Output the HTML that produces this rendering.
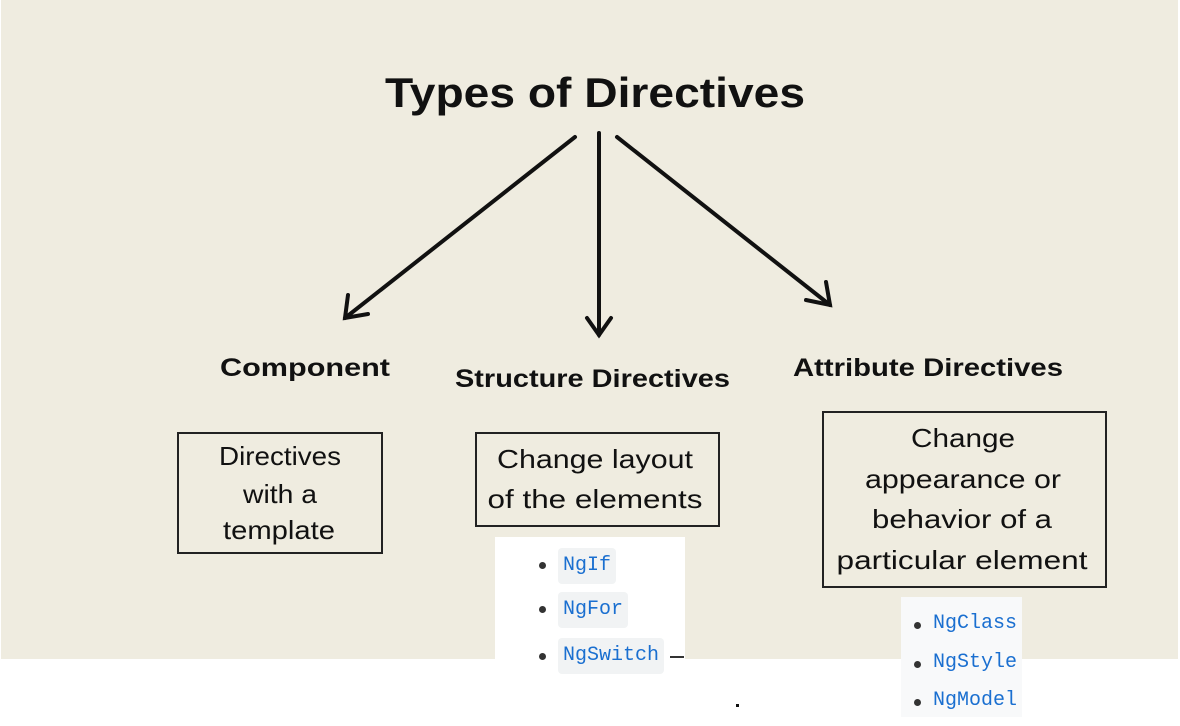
<!DOCTYPE html>
<html><head><style>
body{margin:0;width:1180px;height:726px;background:#fff;position:relative;overflow:hidden;font-family:"Liberation Sans",sans-serif}
.bg{position:absolute;left:1px;top:0;width:1177px;height:659px;background:#efece0}
.box{position:absolute;border:2px solid #222;box-sizing:border-box}
.chip{position:absolute;background:#f1f3f4;border-radius:4px;font-family:"Liberation Mono",monospace;font-size:20px;color:#1a6fd0;padding:0 5px;line-height:36px}
.dot{position:absolute;width:7px;height:7px;border-radius:50%;background:#333}
.m{position:absolute;font-family:"Liberation Mono",monospace;font-size:20px;color:#1a6fd0}
</style></head><body>
<div class="bg"></div>
<div class="box" style="left:177px;top:432px;width:206px;height:122px"></div>
<div class="box" style="left:475px;top:432px;width:245px;height:95px"></div>
<div class="box" style="left:822px;top:411px;width:285px;height:177px"></div>
<svg width="1180" height="726" style="position:absolute;left:0;top:0">
<text x="595" y="107" text-anchor="middle" font-family="Liberation Sans" font-weight="bold" font-size="42" textLength="420" lengthAdjust="spacingAndGlyphs" fill="#111">Types of Directives</text>
<g stroke="#111" stroke-width="4" fill="none" stroke-linecap="round">
<line x1="575" y1="137" x2="345" y2="318"/>
<polyline points="348,295 345,318 368,314"/>
<line x1="599" y1="133" x2="599" y2="335"/>
<polyline points="587,318 599,335 611,318"/>
<line x1="617" y1="137" x2="830" y2="305"/>
<polyline points="806,300 830,305 826,282"/>
</g>
<g font-family="Liberation Sans" font-weight="bold" font-size="25" fill="#111" lengthAdjust="spacingAndGlyphs">
<text x="220" y="376" textLength="170" lengthAdjust="spacingAndGlyphs">Component</text>
<text x="455" y="387" textLength="275" lengthAdjust="spacingAndGlyphs">Structure Directives</text>
<text x="793" y="376" textLength="270" lengthAdjust="spacingAndGlyphs">Attribute Directives</text>
</g>
<g font-family="Liberation Sans" font-size="26" fill="#111" text-anchor="middle">
<text x="280" y="465" textLength="122" lengthAdjust="spacingAndGlyphs">Directives</text>
<text x="280" y="503" textLength="74" lengthAdjust="spacingAndGlyphs">with a</text>
<text x="279" y="539" textLength="112" lengthAdjust="spacingAndGlyphs">template</text>
<text x="595" y="468" textLength="196" lengthAdjust="spacingAndGlyphs">Change layout</text>
<text x="595" y="508" textLength="215" lengthAdjust="spacingAndGlyphs">of the elements</text>
<text x="963" y="447" textLength="104" lengthAdjust="spacingAndGlyphs">Change</text>
<text x="963" y="488" textLength="196" lengthAdjust="spacingAndGlyphs">appearance or</text>
<text x="962" y="528" textLength="180" lengthAdjust="spacingAndGlyphs">behavior of a</text>
<text x="962" y="569" textLength="251" lengthAdjust="spacingAndGlyphs">particular element</text>
</g>
</svg>
<div style="position:absolute;left:495px;top:537px;width:190px;height:140px;background:#fff"></div>
<div class="dot" style="left:539px;top:562px"></div>
<div class="chip" style="left:558px;top:548px">NgIf</div>
<div class="dot" style="left:539px;top:606px"></div>
<div class="chip" style="left:558px;top:592px">NgFor</div>
<div class="dot" style="left:539px;top:653px"></div>
<div class="chip" style="left:558px;top:638px">NgSwitch</div>
<div style="position:absolute;left:670px;top:656px;width:14px;height:2px;background:#333"></div>
<div style="position:absolute;left:736px;top:704px;width:3px;height:3px;background:#111"></div>
<div style="position:absolute;left:901px;top:597px;width:121px;height:120px;background:#f8f9fa"></div>
<div class="dot" style="left:914px;top:622px"></div>
<div class="m" style="left:933px;top:612px">NgClass</div>
<div class="dot" style="left:914px;top:661px"></div>
<div class="m" style="left:933px;top:651px">NgStyle</div>
<div class="dot" style="left:914px;top:699px"></div>
<div class="m" style="left:933px;top:689px">NgModel</div>
</body></html>
